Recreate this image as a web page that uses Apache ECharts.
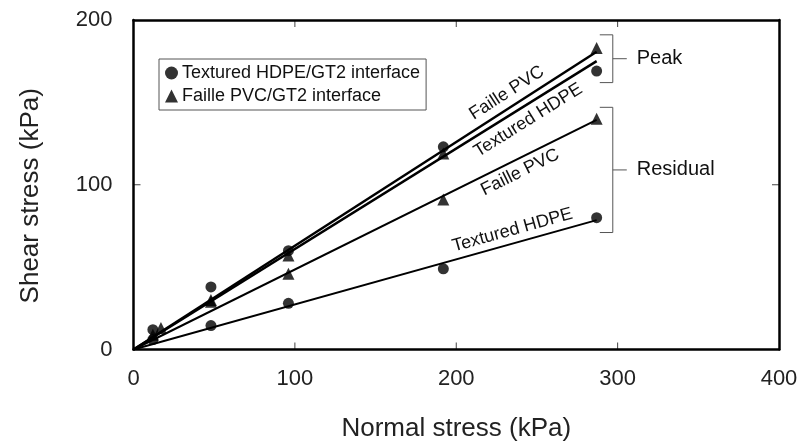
<!DOCTYPE html>
<html>
<head>
<meta charset="utf-8">
<script src="https://cdn.jsdelivr.net/npm/echarts@6/dist/echarts.min.js"></script>
<style>
  html, body { margin: 0; padding: 0; background: #fff; }
  #chart { width: 800px; height: 442px; }
</style>
</head>
<body>
<div id="chart"></div>
<script>
// measured points (normal stress, shear stress) in kPa
var hdpeX = [12, 48, 96, 192, 287];
var hdpePeak = [12, 38, 60, 123, 169];
var hdpeResidual = [6, 14.5, 28, 49, 80];
var pvcPeakX = [17, 48, 96, 192, 287];
var pvcPeak = [13, 30, 57, 119, 183];
var pvcResX = [12, 48, 96, 192, 287];
var pvcResidual = [9, 29, 46, 91, 140];

var xTicks = [0, 100, 200, 300, 400];
var yTicks = [0, 100, 200];

var FONT = '"Liberation Sans", Arial, Helvetica, sans-serif';

function pairs(xs, ys) {
  return xs.map(function (x, i) { return [x, ys[i]]; });
}
// least squares line through the origin
function slopeOf(xs, ys) {
  var sxy = 0, sxx = 0;
  xs.forEach(function (x, i) { sxy += x * ys[i]; sxx += x * x; });
  return sxy / sxx;
}
function fitLine(xs, ys) {
  var k = slopeOf(xs, ys);
  var xm = Math.max.apply(null, xs);
  return { k: k, data: [[0, 0], [xm, k * xm]] };
}

var fits = {
  pvcPeak: fitLine(pvcPeakX, pvcPeak),
  hdpePeak: fitLine(hdpeX, hdpePeak),
  pvcRes: fitLine(pvcResX, pvcResidual),
  hdpeRes: fitLine(hdpeX, hdpeResidual)
};

var myChart = echarts.init(document.getElementById('chart'));

function lineSeries(fit, w) {
  return {
    type: 'line',
    data: fit.data,
    showSymbol: false,
    silent: true,
    lineStyle: { color: '#000', width: w },
    z: 2
  };
}

var axisText = { color: '#222', fontSize: 22, fontFamily: FONT };
var frameLine = { onZero: false, lineStyle: { color: '#000', width: 2.5 } };

var option = {
  backgroundColor: '#fff',
  animation: false,
  grid: { left: 133.5, right: 21, top: 20, bottom: 92.5, containLabel: false, outerBoundsMode: 'none' },
  legend: {
    orient: 'vertical',
    left: 159,
    top: 59,
    padding: [5, 6, 5, 6],
    itemGap: 5,
    itemWidth: 13,
    itemHeight: 13,
    borderColor: '#555',
    borderWidth: 1,
    data: [
      { name: 'Textured HDPE/GT2 interface', icon: 'circle' },
      { name: 'Faille PVC/GT2 interface', icon: 'triangle' }
    ],
    textStyle: { color: '#111', fontSize: 18, fontFamily: FONT, padding: [0, 0, 0, -1] }
  },
  xAxis: [{
    type: 'value',
    min: 0, max: 400, interval: 100,
    name: 'Normal stress (kPa)',
    nameLocation: 'middle',
    nameGap: 66,
    nameTextStyle: { color: '#222', fontSize: 26, fontFamily: FONT },
    axisLine: frameLine,
    axisTick: { show: false },
    axisLabel: Object.assign({ margin: 18, showMaxLabel: true }, axisText),
    splitLine: { show: false }
  }, {
    type: 'value', position: 'top',
    min: 0, max: 400, interval: 100,
    axisLine: frameLine,
    axisTick: { show: false },
    axisLabel: { show: false },
    splitLine: { show: false }
  }],
  yAxis: [{
    type: 'value',
    min: 0, max: 200, interval: 100,
    name: 'Shear stress (kPa)',
    nameLocation: 'middle',
    nameGap: 90,
    nameTextStyle: { color: '#222', fontSize: 26, fontFamily: FONT, padding: [0, 22, 0, 0] },
    axisLine: frameLine,
    axisTick: { show: false },
    axisLabel: Object.assign({ margin: 21 }, axisText),
    splitLine: { show: false }
  }, {
    type: 'value', position: 'right',
    min: 0, max: 200, interval: 100,
    axisLine: frameLine,
    axisTick: { show: false },
    axisLabel: { show: false },
    splitLine: { show: false }
  }],
  series: [
    lineSeries(fits.pvcPeak, 2.5),
    lineSeries(fits.hdpePeak, 2.5),
    lineSeries(fits.pvcRes, 2),
    lineSeries(fits.hdpeRes, 2),
    {
      name: 'Textured HDPE/GT2 interface',
      type: 'scatter',
      symbol: 'circle',
      symbolSize: 11,
      itemStyle: { color: '#000' },
      data: pairs(hdpeX, hdpePeak).concat(pairs(hdpeX, hdpeResidual)),
      z: 3
    },
    {
      name: 'Faille PVC/GT2 interface',
      type: 'scatter',
      symbol: 'triangle',
      symbolSize: 12,
      itemStyle: { color: '#000' },
      data: pairs(pvcPeakX, pvcPeak).concat(pairs(pvcResX, pvcResidual)),
      z: 3
    }
  ]
};

myChart.setOption(option);

function px(x, y) {
  return myChart.convertToPixel({ gridIndex: 0 }, [x, y]);
}

// inward ticks on all four sides of the frame
function frameTicks() {
  var out = [];
  var st = { stroke: '#444', lineWidth: 1 };
  var L = 7;
  var x0 = xTicks[0], x1 = xTicks[xTicks.length - 1];
  var y0 = yTicks[0], y1 = yTicks[yTicks.length - 1];
  xTicks.slice(1, -1).forEach(function (v) {
    var b = px(v, y0), t = px(v, y1);
    out.push({ type: 'line', silent: true, shape: { x1: b[0], y1: b[1], x2: b[0], y2: b[1] - L }, style: st });
    out.push({ type: 'line', silent: true, shape: { x1: t[0], y1: t[1], x2: t[0], y2: t[1] + L }, style: st });
  });
  yTicks.slice(1, -1).forEach(function (v) {
    var l = px(x0, v), r = px(x1, v);
    out.push({ type: 'line', silent: true, shape: { x1: l[0], y1: l[1], x2: l[0] + L, y2: l[1] }, style: st });
    out.push({ type: 'line', silent: true, shape: { x1: r[0], y1: r[1], x2: r[0] - L, y2: r[1] }, style: st });
  });
  return out;
}

// rotated labels along the fitted lines
function lineLabel(text, fit, atX, offset) {
  var p0 = px(0, 0);
  var p1 = px(atX, fit.k * atX);
  var th = Math.atan2(p0[1] - p1[1], p1[0] - p0[0]);
  return {
    type: 'text',
    x: p1[0] - Math.sin(th) * offset,
    y: p1[1] - Math.cos(th) * offset,
    rotation: th,
    silent: true,
    style: {
      text: text, fill: '#111', fontSize: 18, fontFamily: FONT,
      align: 'center', verticalAlign: 'middle'
    }
  };
}

// bracket groups for peak and residual
function bracket(text, xAt, yLow, yHigh) {
  var a = px(xAt, yHigh);
  var b = px(xAt, yLow);
  var mid = (a[1] + b[1]) / 2;
  var st = { stroke: '#555', lineWidth: 1 };
  return [
    { type: 'polyline', silent: true, shape: { points: [[a[0] - 13, a[1]], [a[0], a[1]], [b[0], b[1]], [b[0] - 13, b[1]]] }, style: st },
    { type: 'line', silent: true, shape: { x1: a[0], y1: mid, x2: a[0] + 14, y2: mid }, style: st },
    {
      type: 'text', silent: true, x: a[0] + 24, y: mid,
      style: { text: text, fill: '#111', fontSize: 20, fontFamily: FONT, verticalAlign: 'middle' }
    }
  ];
}

var graphics = frameTicks().concat([
  lineLabel('Faille PVC', fits.pvcPeak, 236, 14),
  lineLabel('Textured HDPE', fits.hdpePeak, 240, -14),
  lineLabel('Faille PVC', fits.pvcRes, 236, -13),
  lineLabel('Textured HDPE', fits.hdpeRes, 237, 13)
]).concat(bracket('Peak', 297, 162, 191)).concat(bracket('Residual', 297, 71, 147));

myChart.setOption({ graphic: graphics });

window.addEventListener('resize', function () {
  myChart.resize();
});
</script>
</body>
</html>
